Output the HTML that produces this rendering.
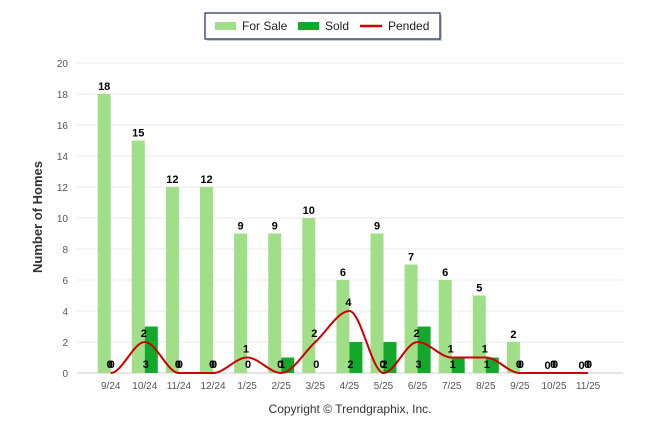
<!DOCTYPE html>
<html><head><meta charset="utf-8"><style>
body{margin:0;background:#fff;font-family:"Liberation Sans",Arial,sans-serif}
svg text{font-family:"Liberation Sans",Arial,sans-serif}
</style></head><body>
<svg width="646" height="434" xmlns="http://www.w3.org/2000/svg">
<g>
<rect x="207" y="15" width="235" height="26" fill="#999" opacity="0.5"/>
<rect x="205" y="13" width="235" height="26" fill="#fff" stroke="#1a2a5a" stroke-width="1.2"/>
<rect x="215" y="22" width="21" height="8" fill="#a0df88"/>
<text x="242" y="30" font-size="12" fill="#222">For Sale</text>
<rect x="298" y="22" width="21" height="8" fill="#13a82a"/>
<text x="325" y="30" font-size="12" fill="#222">Sold</text>
<line x1="360" y1="26" x2="382" y2="26" stroke="#cc0000" stroke-width="2.5"/>
<text x="388" y="30" font-size="12" fill="#222">Pended</text>
</g>
<text transform="translate(42,217) rotate(-90)" text-anchor="middle" font-size="13" font-weight="bold" fill="#333">Number of Homes</text>
<text x="350" y="413" text-anchor="middle" font-size="12" fill="#333">Copyright © Trendgraphix, Inc.</text>
<g id="grid"></g><g id="bars"></g><g id="line"></g><g id="labels"></g>
</svg>
<script>
const categories=["9/24","10/24","11/24","12/24","1/25","2/25","3/25","4/25","5/25","6/25","7/25","8/25","9/25","10/25","11/25"];
const forSale=[18,15,12,12,9,9,10,6,9,7,6,5,2,0,0];
const sold=[0,3,0,0,0,1,0,2,2,3,1,1,0,0,0];
const pended=[0,2,0,0,1,0,2,4,0,2,1,1,0,0,0];
const yTicks=[0,2,4,6,8,10,12,14,16,18,20];
const NS="http://www.w3.org/2000/svg";
const y=v=>373-v*15.5;
const x=i=>110.7+i*34.1;
function mk(tag,attrs,parent,txt){const e=document.createElementNS(NS,tag);for(const k in attrs)e.setAttribute(k,attrs[k]);if(txt!==undefined)e.textContent=txt;document.getElementById(parent).appendChild(e);return e;}
yTicks.forEach(t=>{
 const l=mk('line',{x1:77,x2:623,y1:y(t),y2:y(t),stroke:t===0?'#ccc':'#e8e8e8','stroke-width':1},'grid');
 
 
 const tx=mk('text',{x:68,y:y(t)+4,'text-anchor':'end','font-size':10,fill:'#555'},'grid',t);
 
 
});
categories.forEach((c,i)=>{
 const t=mk('text',{x:x(i),y:389,'text-anchor':'middle','font-size':10,fill:'#555'},'grid',c);
 
 
 const b=mk('rect',{x:x(i)-13,y:y(forSale[i]),width:13,height:forSale[i]*15.5,fill:'#a0df88'},'bars');
 
 
 const s=mk('rect',{x:x(i),y:y(sold[i]),width:13,height:sold[i]*15.5,fill:'#13a82a'},'bars');
 
 
 const l1=mk('text',{x:x(i)-6.5,y:y(forSale[i])-4,'text-anchor':'middle','font-size':11,'font-weight':'bold',fill:'#000'},'labels',forSale[i]);
 
 
 const l2=mk('text',{x:x(i)+1,y:368,'text-anchor':'middle','font-size':11,'font-weight':'bold',fill:'#000'},'labels',sold[i]);
 
 
 const l3=mk('text',{x:x(i)-1,y:y(pended[i])-5,'text-anchor':'middle','font-size':11,'font-weight':'bold',fill:'#000'},'labels',pended[i]);
 
 
});
// spline
const pts=pended.map((v,i)=>[x(i),y(v)]);
const tan=pts.map((p,i)=>{
 if(i===0||i===pts.length-1)return 0;
 const a=pts[i-1][1],b=p[1],c=pts[i+1][1];
 if((b-a)*(c-b)<=0)return 0;
 return (c-a)/(pts[i+1][0]-pts[i-1][0]);
});
let d='M'+pts[0][0]+','+pts[0][1];
for(let i=0;i<pts.length-1;i++){
 const dx=(pts[i+1][0]-pts[i][0])/3;
 d+=' C'+(pts[i][0]+dx)+','+(pts[i][1]+tan[i]*dx)+' '+(pts[i+1][0]-dx)+','+(pts[i+1][1]-tan[i+1]*dx)+' '+pts[i+1][0]+','+pts[i+1][1];
}
const path=mk('path',{d:d,fill:'none',stroke:'#cc0000','stroke-width':2},'line');


</script>
</body></html>
